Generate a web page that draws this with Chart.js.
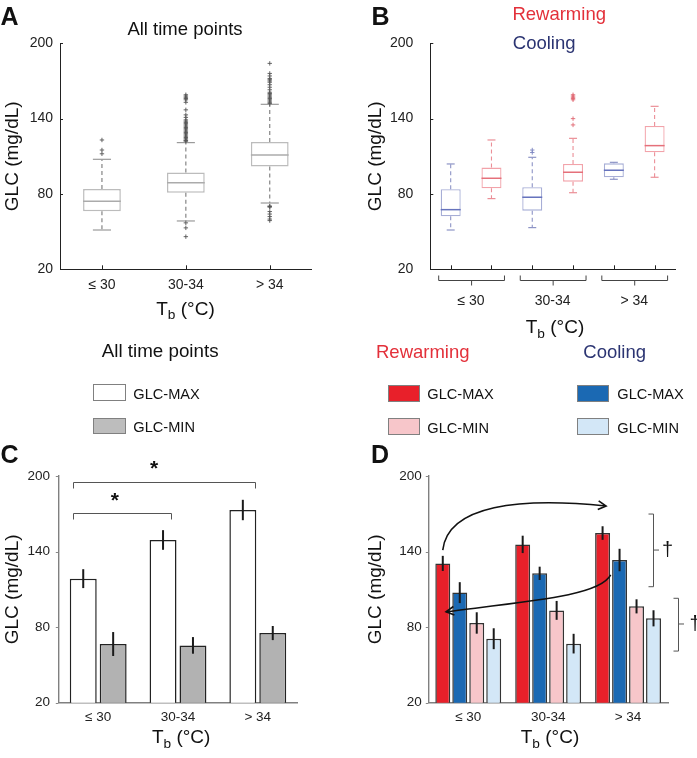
<!DOCTYPE html>
<html><head><meta charset="utf-8">
<script src="https://cdn.jsdelivr.net/npm/chart.js@4.4.1/dist/chart.umd.min.js"></script>
<style>
html,body{margin:0;padding:0;background:#fff;}
body{width:697px;height:758px;overflow:hidden;position:relative;font-family:"Liberation Sans",Arial,Helvetica,sans-serif;color:#111;}
canvas{position:absolute;}
.t{position:absolute;white-space:nowrap;line-height:1;}
.sw{position:absolute;box-sizing:border-box;border:1px solid #808080;}
</style></head><body>
<canvas id="cA" width="345" height="300" style="left:0;top:0"></canvas>
<canvas id="cB" width="352" height="320" style="left:345px;top:0"></canvas>
<canvas id="cC" width="345" height="308" style="left:0;top:450px"></canvas>
<canvas id="cD" width="352" height="308" style="left:345px;top:450px"></canvas>
<script>
// ---------- data ----------
const tbCategories = ['≤ 30', '30-34', '> 34'];
const yTickValues = [20, 80, 140, 200];

// Panel A: all time points (box plots)
const allQ1 = [66.2, 81.0, 101.8];
const allMedian = [74.2, 89.0, 111.0];
const allQ3 = [84.0, 97.0, 121.4];
const allWhiskerLow = [51.3, 58.5, 72.8];
const allWhiskerHigh = [107.6, 120.9, 151.4];
const allOutliers = [
  [112, 115, 123],
  [46, 53, 57, 122, 122.5, 123, 124, 125, 126, 127, 128, 129, 130, 131, 132, 133, 134, 135, 136, 137, 138, 139, 141, 143, 147, 153, 155, 156, 157, 158, 159],
  [58.8, 60, 62, 64, 66, 69.5, 70, 70.4, 152, 153, 154, 155, 156, 157, 158, 159, 160, 161, 163, 165, 167, 169, 170, 171, 172, 174, 176, 184]
];

// Panel B: cooling vs rewarming (box plots)
const coolQ1 = [62.2, 66.7, 93.3];
const coolMedian = [67.5, 77.4, 98.9];
const coolQ3 = [83.7, 85.3, 104.4];
const coolWhiskerLow = [51.3, 53.2, 91.7];
const coolWhiskerHigh = [103.9, 109.2, 105.2];
const coolOutliers = [[], [113, 115], []];
const rewQ1 = [84.5, 89.8, 113.2];
const rewMedian = [92.5, 97.3, 118.5];
const rewQ3 = [101.0, 103.9, 134.2];
const rewWhiskerLow = [76.3, 81.0, 93.3];
const rewWhiskerHigh = [123.0, 124.3, 149.8];
const rewOutliers = [[], [135, 140, 155, 156, 157, 158, 159], []];

// Panel C: all time points GLC-MAX / GLC-MIN (mean ± SE)
const allMax = [118.5, 149.2, 173.0];
const allMaxSE = [7.5, 7.8, 8.1];
const allMin = [66.6, 65.5, 75.3];
const allMinSE = [9.5, 6.6, 5.6];

// Panel D: rewarming / cooling GLC-MAX / GLC-MIN (mean ± SE)
const rewMax = [130.6, 145.7, 154.7];
const rewMaxSE = [6.0, 6.9, 5.4];
const coolMax = [107.4, 122.7, 133.3];
const coolMaxSE = [8.3, 5.3, 8.9];
const rewMin = [83.3, 93.3, 96.5];
const rewMinSE = [8.5, 7.5, 5.6];
const coolMin = [70.8, 66.9, 87.0];
const coolMinSE = [8.3, 7.8, 6.4];

// ---------- helpers ----------
Chart.defaults.font.family = '"Liberation Sans", Arial, Helvetica, sans-serif';
Chart.defaults.color = '#222';

const RED = '#e8202a', BLUE = '#1b69b3', PINK = '#f7c6ca', LBLUE = '#d3e7f7';
const REWTXT = '#e3303a', COOLTXT = '#2b3472';

function line(ctx, x1, y1, x2, y2) { ctx.beginPath(); ctx.moveTo(x1, y1); ctx.lineTo(x2, y2); ctx.stroke(); }

function yAxis(o) {
  return {
    min: yTickValues[0], max: yTickValues[yTickValues.length - 1],
    ticks: { stepSize: yTickValues[1] - yTickValues[0], padding: o.tickPad, font: { size: o.tickSize }, color: '#222' },
    grid: { display: false, drawTicks: false },
    border: { display: true, color: o.border, width: o.bw || 1 },
    title: { display: true, text: 'GLC (mg/dL)', font: { size: 19 }, color: '#111', padding: { top: o.titlePad, bottom: 0 } },
    afterFit(s) { s.width = o.width; }
  };
}
function xAxis(o) {
  return {
    ticks: { padding: o.tickPad, font: { size: o.tickSize }, color: '#222', display: o.showTicks !== false },
    grid: { display: false, drawTicks: false },
    border: { display: true, color: o.border, width: o.bw || 1 },
    weight: 0,
    afterFit(s) { s.height = o.height; }
  };
}
function baseOpts(pad) {
  return { responsive: false, animation: false, events: [], layout: { padding: pad },
    plugins: { legend: { display: false }, tooltip: { enabled: false } } };
}

function drawBoxes(chart, specs) {
  const ctx = chart.ctx, y = chart.scales.y, meta = chart.getDatasetMeta(0);
  const py = v => y.getPixelForValue(v);
  ctx.save();
  specs.forEach((s, i) => {
    const el = meta.data[i]; const cx = el.x, w = el.width;
    ctx.lineWidth = 1.1; ctx.strokeStyle = s.whisker; ctx.setLineDash([4, 3]);
    line(ctx, cx, py(s.q3), cx, py(s.hi));
    line(ctx, cx, py(s.q1), cx, py(s.lo));
    ctx.setLineDash([]);
    ctx.strokeStyle = s.cap; ctx.lineWidth = 1.2;
    const cw = w * s.capFrac / 2;
    line(ctx, cx - cw, py(s.hi), cx + cw, py(s.hi));
    line(ctx, cx - cw, py(s.lo), cx + cw, py(s.lo));
    ctx.strokeStyle = s.median; ctx.lineWidth = 1.5;
    line(ctx, cx - w / 2, py(s.med), cx + w / 2, py(s.med));
    ctx.strokeStyle = s.outlier; ctx.lineWidth = 0.9;
    s.out.forEach(v => { const p = py(v); line(ctx, cx - 2.2, p, cx + 2.2, p); line(ctx, cx, p - 2.2, cx, p + 2.2); });
  });
  ctx.restore();
}
function innerTicks(chart, n) {
  const ctx = chart.ctx, x = chart.scales.x, y = chart.scales.y;
  ctx.save(); ctx.strokeStyle = '#222'; ctx.lineWidth = 1;
  y.ticks.forEach(t => { const p = Math.round(y.getPixelForValue(t.value)) + 0.5; line(ctx, y.right, p, y.right + 3, p); });
  for (let i = 0; i < n; i++) { const p = Math.round(x.getPixelForValue(i)) + 0.5; line(ctx, p, x.top, p, x.top - 4); }
  ctx.restore();
}
function outerYTicks(chart) {
  const ctx = chart.ctx, y = chart.scales.y;
  ctx.save(); ctx.strokeStyle = '#888'; ctx.lineWidth = 1;
  y.ticks.forEach(t => { const p = Math.round(y.getPixelForValue(t.value)) + 0.5; line(ctx, y.right - 2.5, p, y.right, p); });
  ctx.restore();
}
function drawErr(chart, seList) {
  const ctx = chart.ctx, y = chart.scales.y;
  ctx.save(); ctx.strokeStyle = '#1a1a1a'; ctx.lineWidth = 2;
  seList.forEach((se, d) => {
    const meta = chart.getDatasetMeta(d), vals = chart.data.datasets[d].data;
    meta.data.forEach((el, i) => line(ctx, el.x, y.getPixelForValue(vals[i] + se[i]), el.x, y.getPixelForValue(vals[i] - se[i])));
  });
  ctx.restore();
}

// ---------- Panel A ----------
new Chart(document.getElementById('cA'), {
  type: 'bar',
  data: { labels: tbCategories, datasets: [{
    data: allQ1.map((q, i) => [q, allQ3[i]]),
    backgroundColor: '#ffffff', borderColor: '#bcbcbc', borderWidth: 1.5, borderSkipped: false,
    barPercentage: 0.45, categoryPercentage: 1 }] },
  options: Object.assign(baseOpts({ top: 43.3, right: 33.3, left: 0, bottom: 0 }), {
    scales: { x: xAxis({ tickPad: 7, tickSize: 14, border: '#222', height: 30.7 }),
              y: yAxis({ tickPad: 7, tickSize: 14, border: '#222', titlePad: 1.1, width: 60 }) } }),
  plugins: [{ id: 'boxA', afterDatasetsDraw(chart) {
    drawBoxes(chart, tbCategories.map((c, i) => ({ q1: allQ1[i], q3: allQ3[i], med: allMedian[i], lo: allWhiskerLow[i], hi: allWhiskerHigh[i], out: allOutliers[i],
      whisker: '#7a7a7a', cap: '#9a9a9a', median: '#ababab', outlier: '#555', capFrac: 0.48 })));
    innerTicks(chart, tbCategories.length);
  } }]
});

// ---------- Panel B ----------
const bLabels = tbCategories.flatMap(c => ['Cooling ' + c, 'Rewarming ' + c]);
const bSpecs = tbCategories.flatMap((c, i) => [
  { q1: coolQ1[i], q3: coolQ3[i], med: coolMedian[i], lo: coolWhiskerLow[i], hi: coolWhiskerHigh[i], out: coolOutliers[i],
    whisker: '#8d94c6', cap: '#8d94c6', median: '#6673bd', outlier: '#7b83c0', capFrac: 0.4, box: '#a7aed6' },
  { q1: rewQ1[i], q3: rewQ3[i], med: rewMedian[i], lo: rewWhiskerLow[i], hi: rewWhiskerHigh[i], out: rewOutliers[i],
    whisker: '#eb8f97', cap: '#eb8f97', median: '#e5707a', outlier: '#e06672', capFrac: 0.4, box: '#f2a3aa' }
]);
new Chart(document.getElementById('cB'), {
  type: 'bar',
  data: { labels: bLabels, datasets: [{
    data: bSpecs.map(s => [s.q1, s.q3]),
    backgroundColor: '#ffffff', borderColor: bSpecs.map(s => s.box), borderWidth: 1.3, borderSkipped: false,
    barPercentage: 0.49, categoryPercentage: 1 }] },
  options: Object.assign(baseOpts({ top: 43.3, right: 22, left: 0, bottom: 0 }), {
    scales: {
      x: xAxis({ tickPad: 0, tickSize: 14, border: '#222', height: 0, showTicks: false }),
      x2: { type: 'category', labels: tbCategories, offset: true, position: 'bottom', weight: 1,
            ticks: { padding: 23, font: { size: 14 }, color: '#222' },
            grid: { display: false, drawTicks: false }, border: { display: false },
            afterFit(s) { s.height = 50.7; } },
      y: yAxis({ tickPad: 17, tickSize: 14, border: '#222', titlePad: 19.4, width: 85.3 }) } }),
  plugins: [{ id: 'boxB', afterDatasetsDraw(chart) {
    drawBoxes(chart, bSpecs);
    innerTicks(chart, bLabels.length);
  }, afterDraw(chart) {
    const ctx = chart.ctx, x = chart.scales.x, b = chart.chartArea.bottom;
    ctx.save(); ctx.strokeStyle = '#444'; ctx.lineWidth = 1;
    tbCategories.forEach((c, g) => {
      const x1 = x.getPixelForValue(2 * g) - 12, x2 = x.getPixelForValue(2 * g + 1) + 13, m = (x1 + x2) / 2, yy = Math.round(b + 11) + 0.5;
      ctx.beginPath(); ctx.moveTo(x1, yy - 5); ctx.lineTo(x1, yy); ctx.lineTo(x2, yy); ctx.lineTo(x2, yy - 5); ctx.stroke();
      line(ctx, m, yy, m, yy + 5);
    });
    ctx.restore();
  } }]
});

// ---------- Panel C ----------
new Chart(document.getElementById('cC'), {
  type: 'bar',
  data: { labels: tbCategories, datasets: [
    { label: 'GLC-MAX', data: allMax, backgroundColor: '#ffffff', borderColor: '#222', borderWidth: 1.5, categoryPercentage: 0.75, barPercentage: 0.9 },
    { label: 'GLC-MIN', data: allMin, backgroundColor: '#b2b2b2', borderColor: '#222', borderWidth: 1.5, categoryPercentage: 0.75, barPercentage: 0.9 }
  ] },
  options: Object.assign(baseOpts({ top: 26, right: 47.3, left: 0, bottom: 0 }), {
    scales: { x: xAxis({ tickPad: 6, tickSize: 13.5, border: '#808080', bw: 1.4, height: 55.3 }),
              y: yAxis({ tickPad: 8.3, tickSize: 13.5, border: '#808080', bw: 1.4, titlePad: 1.1, width: 58.3 }) } }),
  plugins: [{ id: 'annC', afterDatasetsDraw(chart) {
    drawErr(chart, [allMaxSE, allMinSE]);
    outerYTicks(chart);
  }, afterDraw(chart) {
    const ctx = chart.ctx, x = chart.scales.x, y = chart.scales.y;
    ctx.save(); ctx.strokeStyle = '#555'; ctx.lineWidth = 1;
    const br = (i1, i2, v) => { const x1 = Math.round(x.getPixelForValue(i1)) + 0.5, x2 = Math.round(x.getPixelForValue(i2)) + 0.5, yy = Math.round(y.getPixelForValue(v)) + 0.5;
      ctx.beginPath(); ctx.moveTo(x1, yy + 6); ctx.lineTo(x1, yy); ctx.lineTo(x2, yy); ctx.lineTo(x2, yy + 6); ctx.stroke(); };
    br(-0.317, 1.965, 195); br(-0.317, 0.909, 170.4);
    ctx.fillStyle = '#111'; ctx.font = 'bold 21px "Liberation Sans", Arial, sans-serif'; ctx.textAlign = 'center'; ctx.textBaseline = 'middle';
    ctx.fillText('*', x.getPixelForValue(0.7), y.getPixelForValue(209.5) + 5);
    ctx.fillText('*', x.getPixelForValue(0.21), y.getPixelForValue(183.6) + 5);
    ctx.restore();
  } }]
});

// ---------- Panel D ----------
new Chart(document.getElementById('cD'), {
  type: 'bar',
  data: { labels: tbCategories, datasets: [
    { label: 'Rewarming GLC-MAX', data: rewMax, backgroundColor: RED, borderColor: '#333', borderWidth: 1.5, categoryPercentage: 0.85, barPercentage: 0.88 },
    { label: 'Cooling GLC-MAX', data: coolMax, backgroundColor: BLUE, borderColor: '#333', borderWidth: 1.5, categoryPercentage: 0.85, barPercentage: 0.88 },
    { label: 'Rewarming GLC-MIN', data: rewMin, backgroundColor: PINK, borderColor: '#333', borderWidth: 1.5, categoryPercentage: 0.85, barPercentage: 0.88 },
    { label: 'Cooling GLC-MIN', data: coolMin, backgroundColor: LBLUE, borderColor: '#333', borderWidth: 1.5, categoryPercentage: 0.85, barPercentage: 0.88 }
  ] },
  options: Object.assign(baseOpts({ top: 26, right: 29, left: 0, bottom: 0 }), {
    scales: { x: xAxis({ tickPad: 6, tickSize: 13.5, border: '#808080', bw: 1.4, height: 55.3 }),
              y: yAxis({ tickPad: 6.6, tickSize: 13.5, border: '#808080', bw: 1.4, titlePad: 19.4, width: 83.3 }) } }),
  plugins: [{ id: 'annD', afterDatasetsDraw(chart) {
    drawErr(chart, [rewMaxSE, coolMaxSE, rewMinSE, coolMinSE]);
    outerYTicks(chart);
    const ctx = chart.ctx, x = chart.scales.x, y = chart.scales.y;
    const P = (i, v) => [x.getPixelForValue(i), y.getPixelForValue(v)];
    const arrow = (p0, c1, c2, p3) => {
      ctx.beginPath(); ctx.moveTo(...p0); ctx.bezierCurveTo(...c1, ...c2, ...p3); ctx.stroke();
      const a = Math.atan2(p3[1] - c2[1], p3[0] - c2[0]), L = 9, s = 0.5;
      ctx.beginPath();
      ctx.moveTo(p3[0] - L * Math.cos(a - s), p3[1] - L * Math.sin(a - s));
      ctx.lineTo(p3[0], p3[1]);
      ctx.lineTo(p3[0] - L * Math.cos(a + s), p3[1] - L * Math.sin(a + s));
      ctx.stroke();
    };
    ctx.save(); ctx.strokeStyle = '#111'; ctx.lineWidth = 1.6;
    arrow(P(-0.319, 141.2), P(-0.253, 177), P(0.648, 183.3), P(1.725, 176.2));
    arrow(P(1.783, 121.4), P(1.65, 105.5), P(0.899, 101.5), P(-0.278, 92.2));
    ctx.restore();
  }, afterDraw(chart) {
    const ctx = chart.ctx, x = chart.scales.x, y = chart.scales.y;
    ctx.save(); ctx.strokeStyle = '#555'; ctx.lineWidth = 1; ctx.fillStyle = '#111';
    ctx.font = '20px "Liberation Sans", Arial, sans-serif'; ctx.textAlign = 'left'; ctx.textBaseline = 'middle';
    const br = (i, v1, v2, vm, gap) => {
      const xx = Math.round(x.getPixelForValue(i)) + 0.5, y1 = y.getPixelForValue(v1), y2 = y.getPixelForValue(v2), ym = y.getPixelForValue(vm);
      ctx.beginPath(); ctx.moveTo(xx - 5, y1); ctx.lineTo(xx, y1); ctx.lineTo(xx, y2); ctx.lineTo(xx - 5, y2); ctx.stroke();
      line(ctx, xx, ym, xx + 5.5, ym);
      ctx.fillText('†', xx + gap, ym);
    };
    br(2.317, 169.8, 112.1, 141.2, 8.4);
    br(2.63, 102.9, 61.0, 82.5, 11);
    ctx.restore();
  } }]
});

// ---------- HTML text ----------
function txt(s, x, base, size, o) {
  o = o || {};
  const d = document.createElement('div'); d.className = 't'; d.innerHTML = s;
  d.style.fontSize = size + 'px'; d.style.top = (base - 0.8465 * size) + 'px'; d.style.left = x + 'px';
  if (o.center) d.style.transform = 'translateX(-50%)';
  if (o.color) d.style.color = o.color;
  if (o.bold) d.style.fontWeight = 'bold';
  document.body.appendChild(d);
}
function sw(x, y, w, h, bg) {
  const d = document.createElement('div'); d.className = 'sw';
  Object.assign(d.style, { left: x + 'px', top: y + 'px', width: w + 'px', height: h + 'px', background: bg });
  document.body.appendChild(d);
}
const TB = 'T<span style="font-size:0.72em;position:relative;top:0.32em">b</span> (°C)';

txt('A', 0.5, 25, 25, { bold: true });
txt('B', 371.5, 25, 25, { bold: true });
txt('C', 0.5, 463.3, 25, { bold: true });
txt('D', 371, 463.3, 25, { bold: true });

txt('All time points', 185, 35.7, 18.5, { center: true });
txt('Rewarming', 559.2, 20.5, 18.5, { center: true, color: REWTXT });
txt('Cooling', 544.2, 50, 18.5, { center: true, color: COOLTXT });

txt(TB, 185.5, 315, 19, { center: true });
txt(TB, 555, 333.3, 19, { center: true });
txt(TB, 181.2, 743.3, 19, { center: true });
txt(TB, 550, 743.3, 19, { center: true });

// legends
txt('All time points', 101.7, 358.3, 18.8);
sw(93.3, 384.3, 32.4, 16.7, '#ffffff');
txt('GLC-MAX', 133.3, 399.3, 14.6);
sw(93.3, 417.7, 32.4, 16.7, '#bdbdbd');
txt('GLC-MIN', 133.3, 432.3, 14.6);

txt('Rewarming', 376, 358.3, 18.5, { color: REWTXT });
txt('Cooling', 583.3, 358.3, 18.5, { color: COOLTXT });
sw(387.7, 385, 32.3, 17.3, RED);
txt('GLC-MAX', 427.3, 399.7, 14.6);
sw(387.7, 418, 32.3, 17.3, PINK);
txt('GLC-MIN', 427.3, 433, 14.6);
sw(576.7, 385, 32.3, 17.3, BLUE);
txt('GLC-MAX', 617.3, 399.7, 14.6);
sw(576.7, 418, 32.3, 17.3, LBLUE);
txt('GLC-MIN', 617.3, 433, 14.6);
</script></body></html>
